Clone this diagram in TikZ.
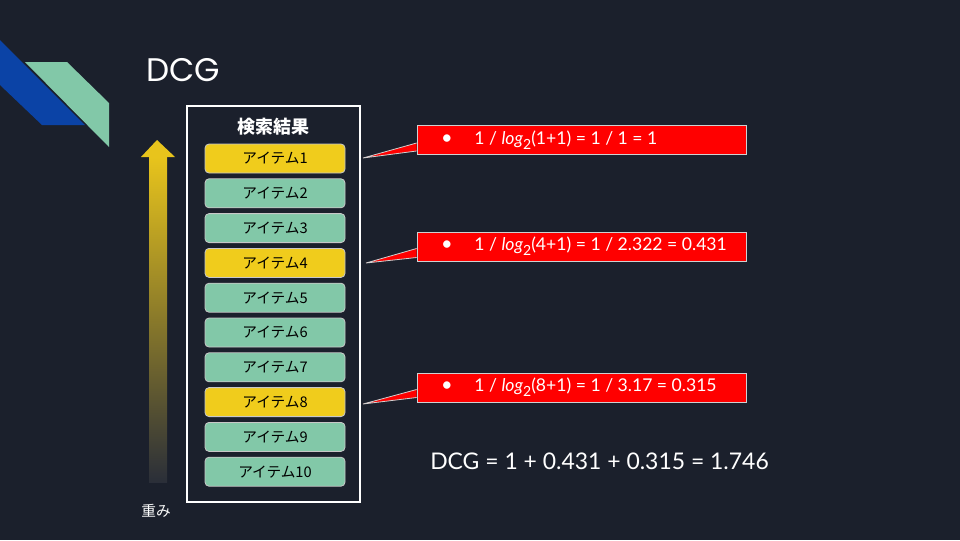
\documentclass[tikz,border=0pt]{standalone}
\usepackage{fontspec}
\setmainfont{Lato}
\newfontfamily\titlefont{Poppins}
\newfontfamily\jpfont{Noto Sans CJK JP}
\usetikzlibrary{positioning}
\definecolor{slatebg}{HTML}{1B202C}
\definecolor{stripeblue}{HTML}{0B43A6}
\definecolor{stripegreen}{HTML}{82C8A8}
\definecolor{itemyellow}{HTML}{F0CC1C}
\definecolor{itemgreen}{HTML}{82C8A8}
\definecolor{itemedge}{HTML}{C8C8C8}
\definecolor{calloutred}{HTML}{FF0000}
\definecolor{calloutedge}{HTML}{D0D0D0}
\definecolor{arrowyellow}{HTML}{E8C41C}
\newcommand{\logsub}[1]{\textit{log}\raisebox{-0.55ex}{\fontsize{10.5}{10.5}\selectfont #1}}
\newcommand{\bulletline}[1]{\makebox[210.75pt][l]{\makebox[25pt][l]{\fontsize{15}{15}\selectfont •}#1}}
\tikzset{
  itembox/.style={draw=itemedge, line width=0.6pt, rounded corners=3pt, minimum width=105pt, minimum height=21.75pt, inner sep=0pt, text=black, font=\jpfont\fontsize{11}{13}\selectfont},
  callout/.style={fill=calloutred, draw=calloutedge, line width=0.6pt, minimum width=246.75pt, minimum height=21.75pt, inner xsep=0pt, inner ysep=0pt, text=white, font=\fontsize{13.2}{15}\selectfont},
  pointer/.style={fill=calloutred},
  pointeredge/.style={draw=calloutedge, line width=0.6pt}
}

\begin{document}
\begin{tikzpicture}[x=0.75pt,y=-0.75pt,line join=miter]
    \def\itemtop{158.5}
    \def\itempitch{34.8}
    % background
    \fill[slatebg] (0,0) rectangle (960,540);
    \useasboundingbox (0,0) rectangle (960,540);
    % stripes
    \fill[stripeblue] (0,40) -- (85,125) -- (42,125) -- (0,85) -- cycle;
    \fill[stripegreen] (25,62) -- (67,62) -- (109,103) -- (109,147) -- cycle;
    \node[anchor=base west, inner sep=0pt, text=white, font=\titlefont\fontsize{24.5}{28}\selectfont] (title) at (146,81) {DCG};

    % weight arrow
    \shade[top color=arrowyellow, bottom color=slatebg!85!gray] (149,157) rectangle (167,482);
    \fill[arrowyellow] (157,140) -- (175,157) -- (141,157) -- cycle;
    \node[text=white, font=\jpfont\fontsize{11}{13}\selectfont] (weight) at (156,511) {重み};

    % results
    \node[draw=white, line width=0.8pt, minimum width=129.75pt, minimum height=297pt] (results) at (273.5,304) {};
    \node[text=white, font=\jpfont\bfseries\fontsize{13.5}{16}\selectfont] (header) at (273,127) {検索結果};
    \foreach \i/\c in {1/itemyellow,2/itemgreen,3/itemgreen,4/itemyellow,5/itemgreen,6/itemgreen,7/itemgreen,8/itemyellow,9/itemgreen,10/itemgreen} {
        \node[itembox, fill=\c] (item\i) at (275,{\itemtop+(\i-1)*\itempitch}) {アイテム\i};
    }

    % callouts
    \node[callout] (call1) at (581.5,140) {\bulletline{1 / \logsub{2}(1+1) = 1 / 1 = 1}};
    \node[callout] (call2) at (581.5,246.5) {\bulletline{1 / \logsub{2}(4+1) = 1 / 2.322 = 0.431}};
    \node[callout] (call3) at (581.5,387.5) {\bulletline{1 / \logsub{2}(8+1) = 1 / 3.17 = 0.315}};
    \coordinate (tip1) at (363,158);
    \coordinate (tip2) at (366,263);
    \coordinate (tip3) at (363,404);
    \foreach \n/\a/\b in {1/-2.25/-8.25,2/-1.5/-8.25,3/-1.5/-7.5} {
        \fill[pointer] ([yshift=\a pt]call\n.west) -- (tip\n) -- ([yshift=\b pt]call\n.west) -- cycle;
        \draw[pointeredge] ([yshift=\a pt]call\n.west) -- (tip\n) -- ([yshift=\b pt]call\n.west);
    }

    \node[anchor=base west, inner sep=0pt, text=white, font=\fontsize{17.2}{20}\selectfont] (total) at (430,469) {DCG = 1 + 0.431 + 0.315 = 1.746};
\end{tikzpicture}
\end{document}
